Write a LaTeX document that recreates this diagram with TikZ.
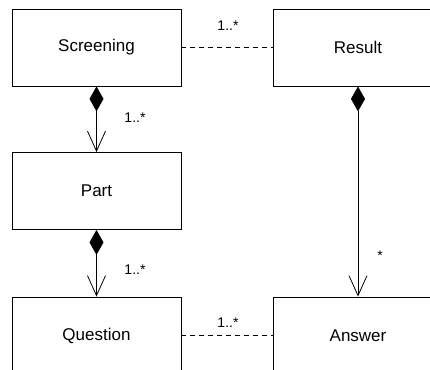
\documentclass[tikz,border=0pt]{standalone}
\usepackage{fontspec}
\setmainfont{Liberation Sans}
\usetikzlibrary{arrows.meta}
\begin{document}
\begin{tikzpicture}[x=1pt,y=-1pt,
  cls/.style={draw,line width=0.8pt,minimum width=169pt,minimum height=77pt,inner sep=0pt,font=\fontsize{17}{20}\selectfont},
  comp/.style={line width=0.8pt,{Diamond[length=25pt,width=14pt]}-{Straight Barb[length=20pt,width=18pt,line width=0.8pt]}},
  assoc/.style={line width=0.8pt,dash pattern=on 5pt off 4pt},
  mult/.style={font=\fontsize{14}{16}\selectfont,inner sep=0pt}]
\useasboundingbox (0,0) rectangle (430,369);
\clip (0,0) rectangle (430,369);
\node[cls] (scr) at (96.5,47.5) {Screening};
\node[cls] (res) at (358,47.5) {Result};
\node[cls] (part) at (96.5,191) {Part};
\node[cls] (que) at (96.5,335.5) {Question};
\node[cls] (ans) at (358,335.5) {Answer};
\draw[assoc] (scr.east) -- (res.west);
\draw[assoc] (que.east) -- (ans.west);
\draw[comp] (scr.south) -- (part.north);
\draw[comp] (part.south) -- (que.north);
\draw[comp] (res.south) -- (ans.north);
\node[mult] (m1) at (228,26) {1..*};
\node[mult] (m2) at (135,118) {1..*};
\node[mult] (m3) at (135,270) {1..*};
\node[mult] (m4) at (380,256) {*};
\node[mult] (m5) at (228,323) {1..*};
\end{tikzpicture}
\end{document}
